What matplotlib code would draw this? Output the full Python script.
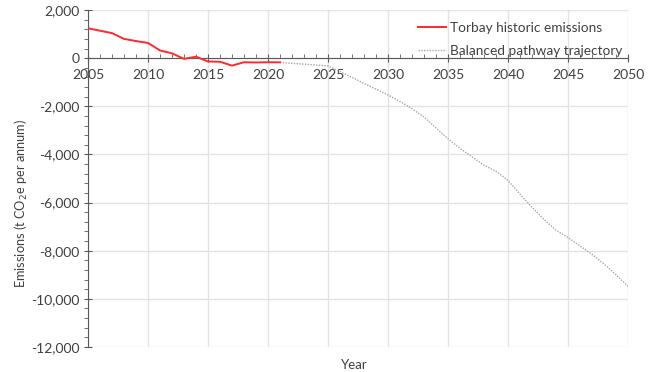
import numpy as np
import matplotlib.pyplot as plt
from matplotlib.ticker import MultipleLocator, FuncFormatter

# Torbay historic emissions (t CO2e per annum)
hist_years = [2005, 2006, 2007, 2008, 2009, 2010, 2011, 2012, 2013, 2014,
              2015, 2016, 2017, 2018, 2019, 2020, 2021]
hist_vals = [1240, 1140, 1040, 800, 710, 630, 320, 200, -30, 60,
             -140, -150, -310, -170, -180, -170, -175]

# Balanced pathway trajectory
traj_years = [2021, 2022, 2023, 2024, 2025, 2026, 2027, 2028, 2029, 2030,
              2031, 2032, 2033, 2034, 2035, 2036, 2037, 2038, 2039, 2040,
              2041, 2042, 2043, 2044, 2045, 2046, 2047, 2048, 2049, 2050]
traj_vals = [-175, -215, -250, -285, -320, -560, -800, -1050, -1290, -1530,
             -1800, -2100, -2450, -2900, -3350, -3750, -4100, -4450, -4700, -5080,
             -5650, -6200, -6700, -7150, -7450, -7800, -8150, -8550, -9000, -9480]

plt.rcParams["font.family"] = ["Lato", "DejaVu Sans"]

fig = plt.figure(figsize=(6.62, 3.72), dpi=100)
ax = fig.add_axes([88 / 662, 1 - 347 / 372, 540 / 662, 337 / 372])

ax.plot(hist_years, hist_vals, color="#ff2a2a", lw=1.4, label="Torbay historic emissions", zorder=3)
ax.plot(traj_years, traj_vals, color="#a6a6a6", lw=1.0, ls=(0, (1, 1)),
        label="Balanced pathway trajectory", zorder=2)

ax.set_xlim(2005, 2050)
ax.set_ylim(-12000, 2000)
ax.xaxis.set_major_locator(MultipleLocator(5))
ax.xaxis.set_minor_locator(MultipleLocator(1))
ax.yaxis.set_major_locator(MultipleLocator(2000))
ax.yaxis.set_minor_locator(MultipleLocator(400))
ax.yaxis.set_major_formatter(FuncFormatter(lambda v, p: f"{v:,.0f}"))

ax.grid(True, which="major", color="#e3e3e3", lw=1.0)
ax.set_axisbelow(True)

for s in ["top", "right"]:
    ax.spines[s].set_visible(False)
ax.spines["bottom"].set_position(("data", 0))
ax.spines["bottom"].set_color("#595959")
ax.spines["left"].set_color("#595959")

ax.tick_params(axis="both", which="major", direction="inout", length=6, color="#595959",
               labelsize=10, labelcolor="#404040")
ax.tick_params(axis="x", which="minor", direction="in", length=3, color="#595959")
ax.tick_params(axis="y", which="minor", direction="out", length=3, color="#595959")
ax.tick_params(axis="x", which="major", pad=5)
ax.tick_params(axis="y", which="major", pad=3)

ax.set_xlabel("Year", fontsize=9.5, color="#404040")
ax.xaxis.set_label_coords(0.494, -0.035)
ax.set_ylabel("Emissions (t CO$_2$e per annum)", fontsize=9.2, color="#404040")
ax.yaxis.set_label_coords(-0.108, 0.427)

leg = ax.legend(loc="upper right", bbox_to_anchor=(1.012, 1.0), frameon=False,
                fontsize=9.8, handlelength=2.1, handletextpad=0.25, labelspacing=0.8)
for t in leg.get_texts():
    t.set_color("#404040")

fig.savefig("out.png", dpi=100)
